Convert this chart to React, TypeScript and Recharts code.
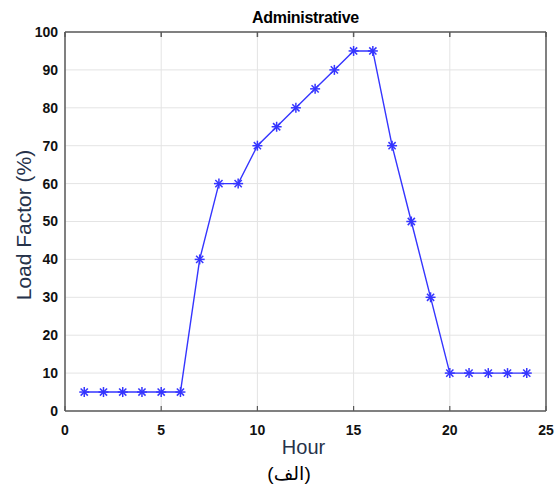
import React from 'react';
import { LineChart, Line, XAxis, YAxis, CartesianGrid } from 'recharts';

const hours = [1, 2, 3, 4, 5, 6, 7, 8, 9, 10, 11, 12, 13, 14, 15, 16, 17, 18, 19, 20, 21, 22, 23, 24];
const loadFactor = [5, 5, 5, 5, 5, 5, 40, 60, 60, 70, 75, 80, 85, 90, 95, 95, 70, 50, 30, 10, 10, 10, 10, 10];
const xTicks = [0, 5, 10, 15, 20, 25];
const yTicks = [0, 10, 20, 30, 40, 50, 60, 70, 80, 90, 100];

const data = hours.map((h, i) => ({ hour: h, value: loadFactor[i] }));

const BLUE = '#3535ff';
const FRAME = '#5a5a5a';
const LABEL = '#26324a';
const tickFont = { fontFamily: 'Liberation Sans, Arial, sans-serif', fontSize: 14, fontWeight: 700, fill: '#111' };
const noLabel = () => <g />;

// MATLAB-style '*' marker
const Star = (props: any) => {
  const { cx, cy } = props;
  if (cx == null || cy == null) return null;
  const r = 5;
  const d = r * 0.72;
  return (
    <g stroke={BLUE} strokeWidth={1.5}>
      <line x1={cx - r} y1={cy} x2={cx + r} y2={cy} />
      <line x1={cx} y1={cy - r} x2={cx} y2={cy + r} />
      <line x1={cx - d} y1={cy - d} x2={cx + d} y2={cy + d} />
      <line x1={cx - d} y1={cy + d} x2={cx + d} y2={cy - d} />
    </g>
  );
};

export default function App() {
  return (
    <div style={{ position: 'absolute', left: 0, top: 0, width: 555, height: 489, background: '#fff' }}>
      <LineChart width={555} height={489} data={data} margin={{ top: 32, right: 9, bottom: 48, left: 20 }}>
        <CartesianGrid xAxisId="b" yAxisId="l" stroke="#e4e4e4" strokeWidth={1} />
        <XAxis
          xAxisId="b"
          dataKey="hour"
          type="number"
          domain={[0, 25]}
          ticks={xTicks}
          height={30}
          stroke={FRAME}
          strokeWidth={1.5}
          tickLine={false}
          tickSize={0}
          tickMargin={14}
          tick={tickFont}
        />
        <XAxis xAxisId="bm" dataKey="hour" type="number" domain={[0, 25]} ticks={xTicks} height={1}
          mirror stroke={FRAME} strokeWidth={1.2} axisLine={false} tickSize={5} tick={noLabel} />
        <XAxis xAxisId="t" orientation="top" dataKey="hour" type="number" domain={[0, 25]} ticks={xTicks} height={1}
          mirror stroke={FRAME} strokeWidth={1.5} tickSize={5} tick={noLabel} />
        <YAxis
          yAxisId="l"
          type="number"
          domain={[0, 100]}
          ticks={yTicks}
          width={45}
          stroke={FRAME}
          strokeWidth={1.5}
          tickLine={false}
          tickSize={0}
          tickMargin={7}
          tick={tickFont}
        />
        <YAxis yAxisId="lm" type="number" domain={[0, 100]} ticks={yTicks} width={1}
          mirror stroke={FRAME} strokeWidth={1.2} axisLine={false} tickSize={5} tick={noLabel} />
        <YAxis yAxisId="r" orientation="right" type="number" domain={[0, 100]} ticks={yTicks} width={1}
          mirror stroke={FRAME} strokeWidth={1.5} tickSize={5} tick={noLabel} />
        <Line
          xAxisId="b"
          yAxisId="l"
          dataKey="value"
          stroke={BLUE}
          strokeWidth={1.4}
          dot={<Star />}
          activeDot={false}
          isAnimationActive={false}
        />
      </LineChart>
      <div style={{ position: 'absolute', left: 65, width: 481, top: 9, textAlign: 'center', fontFamily: 'Liberation Sans, Arial, sans-serif', fontWeight: 700, fontSize: 16, letterSpacing: -0.3, color: '#000' }}>
        Administrative
      </div>
      <div style={{ position: 'absolute', left: 63, width: 481, top: 436, textAlign: 'center', fontFamily: 'Liberation Sans, Arial, sans-serif', fontSize: 20, color: LABEL }}>
        Hour
      </div>
      <div
        style={{
          position: 'absolute',
          left: 24,
          top: 225,
          transform: 'translate(-50%, -50%) rotate(-90deg)',
          whiteSpace: 'nowrap',
          fontFamily: 'Liberation Sans, Arial, sans-serif',
          fontSize: 21,
          color: LABEL,
        }}
      >
        Load Factor (%)
      </div>
      <div style={{ position: 'absolute', left: 189, width: 200, top: 462, textAlign: 'center', fontFamily: 'Liberation Sans, DejaVu Sans, sans-serif', fontSize: 19, color: '#000' }}>
        (الف)
      </div>
    </div>
  );
}
